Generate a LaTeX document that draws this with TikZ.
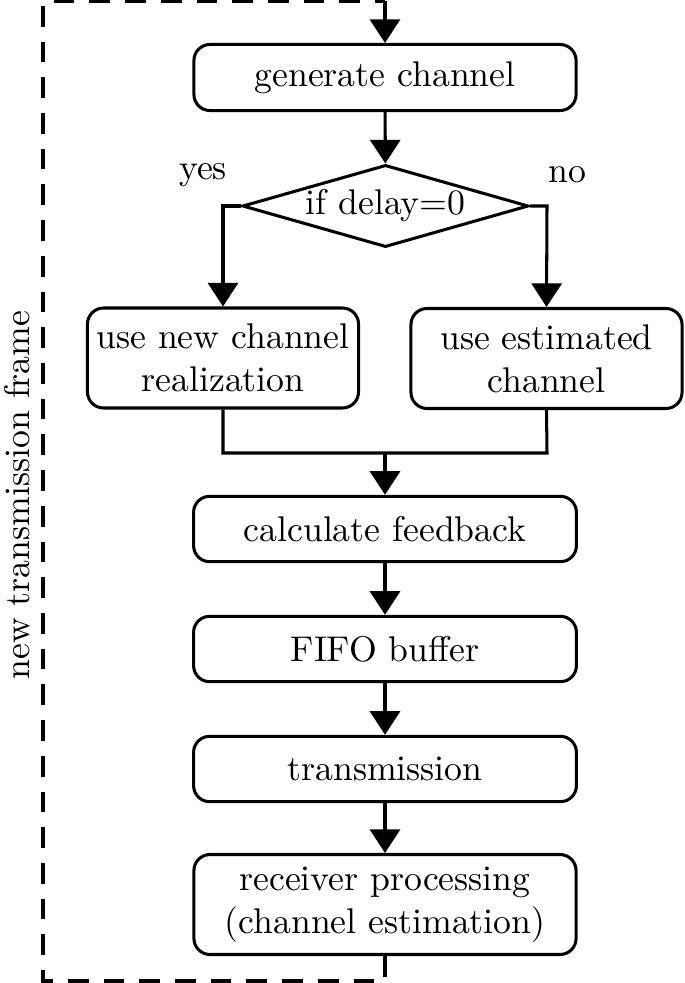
\documentclass[tikz,border=0pt]{standalone}
\usetikzlibrary{shapes.geometric,arrows.meta}
\begin{document}
\begin{tikzpicture}[x=0.28pt,y=-0.28pt,
  every node/.style={font=\fontsize{10}{12}\selectfont},
  procbox/.style={draw,line width=0.85pt,rounded corners=4.5pt,align=center,inner sep=0pt},
  decbox/.style={draw,line width=0.85pt,diamond,aspect=3.5,inner sep=0pt,minimum width=80.1pt,minimum height=23pt},
  flow/.style={line width=0.85pt,-{Triangle[length=6.6pt,width=8.4pt]}},
  plain/.style={line width=0.85pt},
  loopline/.style={line width=0.85pt,dash pattern=on 5.8pt off 4.2pt}]
\useasboundingbox (0,0) rectangle (685,983);
\node[procbox,minimum width=107pt,minimum height=18.5pt] (gen) at (385,77.5) {generate channel};
\node[decbox] (dec) at (385.5,206) {if delay=0};
\node (yes) at (203,175) {yes};
\node (no) at (567,175) {no};
\node[procbox,minimum width=75.9pt,minimum height=28pt] (newc) at (223,358) {use new channel\\realization};
\node[procbox,minimum width=75.9pt,minimum height=28pt] (estc) at (546.5,358.5) {use estimated\\channel};
\node[procbox,minimum width=107.2pt,minimum height=18.3pt] (calc) at (385,529) {calculate feedback};
\node[procbox,minimum width=107.2pt,minimum height=18.3pt] (fifo) at (385,649) {FIFO buffer};
\node[procbox,minimum width=107.2pt,minimum height=18.3pt] (trans) at (385,769) {transmission};
\node[procbox,minimum width=107pt,minimum height=28pt] (recv) at (385,904.5) {receiver processing\\(channel estimation)};
\node[rotate=90] (frame) at (17,495) {new transmission frame};
\coordinate (lbr) at (223,206);
\coordinate (rbr) at (547,206);
\coordinate (ml) at (223,453);
\coordinate (mr) at (547,453);
\coordinate (mm) at (385,453);
\coordinate (b1) at (385,981);
\coordinate (b2) at (43,981);
\coordinate (t1) at (43,1.5);
\coordinate (t2) at (385,1.5);
\draw[flow] (gen) -- (dec);
\draw[flow] (dec.west) -- (lbr) -- (newc.north);
\draw[flow] (dec.east) -- (rbr) -- (estc.north);
\draw[plain] (newc.south) -- (ml) -- (mr) -- (estc.south);
\draw[flow] (mm) -- (calc.north);
\draw[flow] (calc) -- (fifo);
\draw[flow] (fifo) -- (trans);
\draw[flow] (trans) -- (recv);
\draw[loopline] (recv.south) -- (b1) -- (b2) -- (t1) -- (t2);
\draw[flow] (t2) -- (gen.north);
\end{tikzpicture}
\end{document}
